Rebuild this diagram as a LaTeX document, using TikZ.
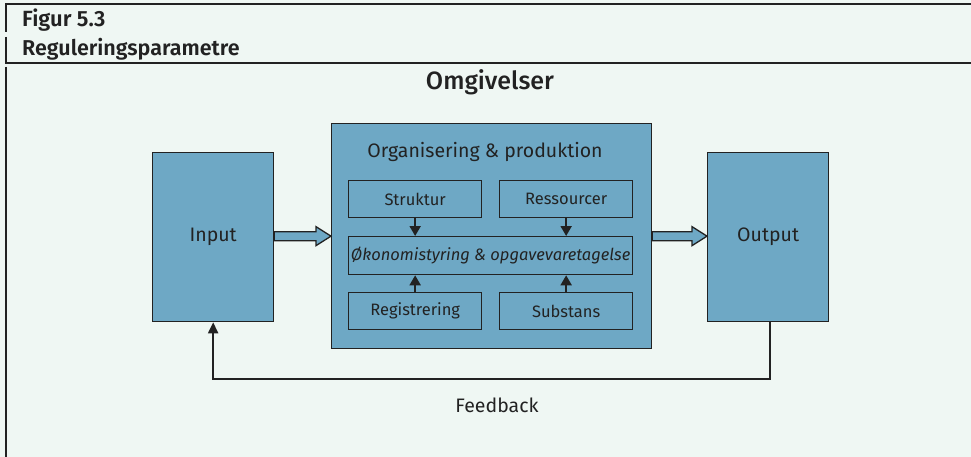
\documentclass[tikz,border=0pt]{standalone}
\usepackage{fontspec}
\setmainfont{Fira Sans}
\newfontfamily\firamed{Fira Sans Medium}
\newfontfamily\firasemi{Fira Sans SemiBold}
\usetikzlibrary{arrows.meta,calc}
\definecolor{bg}{RGB}{239,247,243}
\definecolor{boxblue}{RGB}{110,168,197}
\definecolor{ink}{RGB}{34,34,34}
\begin{document}
\begin{tikzpicture}[x=1pt,y=-1pt,
  box/.style={draw=ink, line width=1.3pt, fill=boxblue, inner sep=0pt, anchor=north west, text=ink},
  small/.style={box, minimum width=133pt, minimum height=37pt, font=\fontsize{16.5}{18}\selectfont},
  lbl/.style={text=ink, inner sep=0pt},
  rule/.style={draw=ink, line width=1.4pt},
  smallarrow/.style={draw=ink, line width=2pt, -{Triangle[length=10pt,width=11pt]}},
  fbarrow/.style={draw=ink, line width=2pt, -{Triangle[length=11pt,width=10pt]}},
  blockarrow/.style={draw=ink, line width=1.3pt, fill=boxblue, line join=miter}
]
\useasboundingbox (0,0) rectangle (971,457);
\fill[bg] (0,0) rectangle (971,457);
% frame rules
\draw[rule] (5,4) -- (971,4);
\draw[rule] (5,63) -- (971,63);
\draw[rule] (6,4) -- (6,32);
\draw[rule] (6,37) -- (6,62);
\draw[rule] (6,67) -- (6,457);
% titles
\node[lbl, anchor=west, font=\fontsize{22}{24}\firasemi] (fig) at (22,20) {Figur 5.3};
\node[lbl, anchor=west, font=\fontsize{21.5}{24}\firasemi] (reg) at (22,49) {Reguleringsparametre};
\node[lbl, font=\fontsize{25}{28}\firamed] (omg) at (490,82) {Omgivelser};
% main boxes
\node[box, minimum width=121pt, minimum height=169pt, font=\fontsize{19.5}{22}\selectfont] (in) at (152,152) {Input};
\node[box, minimum width=121pt, minimum height=169pt, font=\fontsize{19.5}{22}\selectfont] (out) at (707,152) {Output};
\node[box, minimum width=320pt, minimum height=225pt] (big) at (331,123) {};
\node[lbl, font=\fontsize{19.5}{22}\selectfont] (org) at (485,152) {Organisering \& produktion};
% inner boxes
\node[small] (str) at (348,180) {Struktur};
\node[small] (res) at (499,180) {Ressourcer};
\node[box, minimum width=284pt, minimum height=38pt, font=\fontsize{16.5}{18}\selectfont\itshape] (oko) at (348,236) {Økonomistyring \& opgavevaretagelse};
\node[small] (regi) at (348,292) {Registrering};
\node[small] (sub) at (499,292) {Substans};
% small arrows
\draw[smallarrow] (str.south) -- (str.south |- oko.north);
\draw[smallarrow] (res.south) -- (res.south |- oko.north);
\draw[smallarrow] (regi.north) -- (regi.north |- oko.south);
\draw[smallarrow] (sub.north) -- (sub.north |- oko.south);
% block arrows
\draw[blockarrow] ($(in.east |- big.west)+(0,-4.5)$) -- ($(big.west)+(-15,-4.5)$) -- ($(big.west)+(-15,-9.5)$) -- (big.west) -- ($(big.west)+(-15,9.5)$) -- ($(big.west)+(-15,4.5)$) -- ($(in.east |- big.west)+(0,4.5)$) -- cycle;
\draw[blockarrow] ($(big.east)+(0,-4.5)$) -- ($(out.west |- big.east)+(-15,-4.5)$) -- ($(out.west |- big.east)+(-15,-9.5)$) -- (out.west |- big.east) -- ($(out.west |- big.east)+(-15,9.5)$) -- ($(out.west |- big.east)+(-15,4.5)$) -- ($(big.east)+(0,4.5)$) -- cycle;
% feedback
\coordinate (fbc) at (490,379);
\draw[fbarrow] ($(out.south)+(1.5,0)$) |- (fbc) -| (in.south);
\node[lbl, font=\fontsize{19.5}{22}\selectfont] (fbl) at (497,405) {Feedback};
\end{tikzpicture}
\end{document}
